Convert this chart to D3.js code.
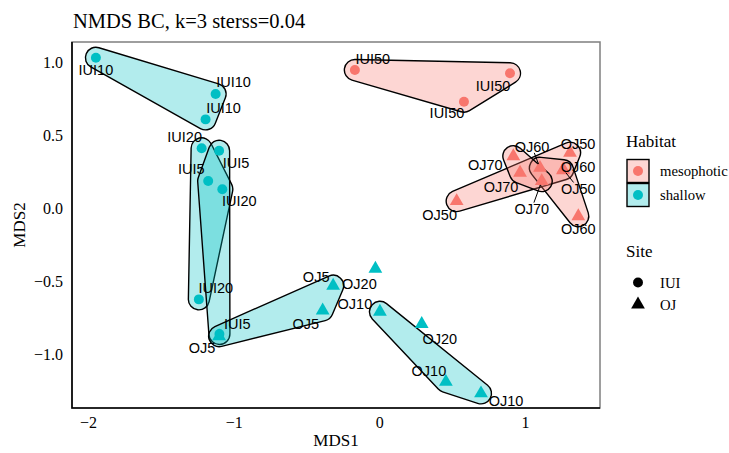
<!DOCTYPE html>
<html>
<head>
<meta charset="utf-8">
<script src="https://cdn.jsdelivr.net/npm/d3@7"></script>
<style>
  body { margin: 0; background: #fff; }
  svg { display: block; }
</style>
</head>
<body>
<svg id="chart" width="729" height="453"></svg>
<script>

// samples, one entry per point
const sampleLabel = [
  "IUI10", "IUI10", "IUI10", "IUI20", "IUI20", "IUI20", "IUI5", "IUI5", "IUI5",
  "OJ5", "OJ5", "OJ5", "OJ10", "OJ10", "OJ10", "OJ20", "OJ20",
  "IUI50", "IUI50", "IUI50",
  "OJ50", "OJ50", "OJ50", "OJ60", "OJ60", "OJ60", "OJ70", "OJ70", "OJ70"
]
const sampleSite = [
  "IUI", "IUI", "IUI", "IUI", "IUI", "IUI", "IUI", "IUI", "IUI",
  "OJ", "OJ", "OJ", "OJ", "OJ", "OJ", "OJ", "OJ",
  "IUI", "IUI", "IUI",
  "OJ", "OJ", "OJ", "OJ", "OJ", "OJ", "OJ", "OJ", "OJ"
]
const sampleHabitat = [
  "shallow", "shallow", "shallow", "shallow", "shallow", "shallow", "shallow", "shallow", "shallow",
  "shallow", "shallow", "shallow", "shallow", "shallow", "shallow", "shallow", "shallow",
  "mesophotic", "mesophotic", "mesophotic",
  "mesophotic", "mesophotic", "mesophotic", "mesophotic", "mesophotic", "mesophotic",
  "mesophotic", "mesophotic", "mesophotic"
]
const mds1 = [
  -1.946, -1.124, -1.193, -1.220, -1.078, -1.239, -1.100, -1.175, -1.098,
  -1.100, -0.389, -0.317, 0.004, 0.457, 0.698, -0.027, 0.291,
  -0.168, 0.897, 0.581,
  0.531, 1.263, 1.309, 1.103, 1.261, 1.366, 0.920, 0.966, 1.115
]
const mds2 = [
  1.029, 0.781, 0.607, 0.409, 0.129, -0.626, 0.392, 0.185, -0.863,
  -0.878, -0.702, -0.532, -0.711, -1.191, -1.270, -0.416, -0.794,
  0.945, 0.923, 0.728,
  0.047, 0.264, 0.378, 0.275, 0.259, -0.056, 0.355, 0.241, 0.184
]

const habitats = ["mesophotic", "shallow"]
const sites = ["IUI", "OJ"]
const xTicks = [-2, -1, 0, 1]
const yTicks = [-1, -0.5, 0, 0.5, 1]

// where the repelled text labels ended up, in px from their point (+ segment flag)
const labelNudge = [
  [0, 12.5], [18, -12], [18, -12], [-17, -12], [17, 12], [17, -12], [17, 12], [-17, -12], [18, -10],
  [-17, 12], [-17, 13], [-17, -9], [-25, -8], [-17, -11], [25, 7], [-16, 15], [18, 15],
  [18, -11.5], [-17, 13], [-17, 11],
  [-17, 14], [15, 19, true], [8, -9], [-8, -21, true], [15, -3], [0, 12.5], [-28, 9], [-19, 14], [-10, 27.5, true]
]

const colour = d3.scaleOrdinal().domain(habitats).range(["#F8766D", "#00BFC4"])
const shape = d3.scaleOrdinal().domain(sites).range([d3.symbolCircle, d3.symbolTriangle])
const symSize = { IUI: 78, OJ: 82 }

const svg = d3.select("#chart")
const panel = { left: 72, right: 600, top: 42, bottom: 408 }

const x = d3.scaleLinear().domain([-2.11, 1.515]).range([panel.left, panel.right])
const y = d3.scaleLinear().domain([-1.37, 1.137]).range([panel.bottom, panel.top])

const serif = "'Liberation Serif', 'Times New Roman', Times, serif"
const sans = "'Liberation Sans', Arial, Helvetica, sans-serif"

const points = mds1.map((v, i) => ({
  label: sampleLabel[i],
  site: sampleSite[i],
  habitat: sampleHabitat[i],
  px: x(v),
  py: y(mds2[i]),
  nudge: labelNudge[i]
}))

// convex hull grown by r with round corners
function roundedHull(pts, r) {
  let h = d3.polygonHull(pts)
  let a2 = 0
  h.forEach((p, i) => {
    let q = h[(i + 1) % h.length]
    a2 += p[0] * q[1] - q[0] * p[1]
  })
  if (a2 < 0) h.reverse()
  let n = h.length
  let segs = h.map((a, i) => {
    let b = h[(i + 1) % n]
    let dx = b[0] - a[0], dy = b[1] - a[1]
    let L = Math.hypot(dx, dy)
    let nx = dy / L * r, ny = -dx / L * r
    return [[a[0] + nx, a[1] + ny], [b[0] + nx, b[1] + ny]]
  })
  let d = "M" + segs[0][0]
  segs.forEach((s, i) => {
    let next = segs[(i + 1) % n]
    d += "L" + s[1] + "A" + r + "," + r + " 0 0 1 " + next[0]
  })
  return d + "Z"
}

// hulls per sample group (only groups with 3+ points)
let groups = d3.groups(points, d => d.label)
let hullLayer = svg.append("g")
groups.forEach(([key, pts]) => {
  if (pts.length < 3) return
  hullLayer.append("path")
    .attr("d", roundedHull(pts.map(p => [p.px, p.py]), 10.5))
    .attr("fill", colour(pts[0].habitat))
    .attr("fill-opacity", 0.3)
    .attr("stroke", "#000")
    .attr("stroke-width", 1.4)
})

// points
svg.append("g").selectAll("path")
  .data(points)
  .join("path")
  .attr("transform", d => "translate(" + d.px + "," + d.py + ")")
  .attr("d", d => d3.symbol().type(shape(d.site)).size(symSize[d.site])())
  .attr("fill", d => colour(d.habitat))

// text labels + leader segments
let labelLayer = svg.append("g")
points.forEach(p => {
  let cx = p.px + p.nudge[0], cy = p.py + p.nudge[1]
  let t = labelLayer.append("text")
    .attr("x", cx).attr("y", cy).attr("dy", "0.36em")
    .attr("text-anchor", "middle")
    .style("font-family", sans).style("font-size", "14.5px")
    .text(p.label)
  if (p.nudge[2]) {
    let hw = t.node().getComputedTextLength() / 2 + 1, hh = 6
    let vx = p.px - cx, vy = p.py - cy
    let s = Math.min(hw / Math.abs(vx || 1e-6), hh / Math.abs(vy || 1e-6))
    let L = Math.hypot(vx, vy)
    labelLayer.append("line")
      .attr("x1", cx + vx * s).attr("y1", cy + vy * s)
      .attr("x2", p.px - vx / L * 4).attr("y2", p.py - vy / L * 4)
      .attr("stroke", "#000").attr("stroke-width", 1)
  }
})

// panel frame
svg.append("rect")
  .attr("x", panel.left).attr("y", panel.top)
  .attr("width", panel.right - panel.left).attr("height", panel.bottom - panel.top)
  .attr("fill", "none").attr("stroke", "#7f7f7f").attr("stroke-width", 1.5)
svg.append("path")
  .attr("d", "M" + panel.left + "," + panel.top + "V" + panel.bottom + "H" + panel.right)
  .attr("fill", "none").attr("stroke", "#000").attr("stroke-width", 1.6)

// axes
let xAxis = svg.append("g")
  .attr("transform", "translate(0," + panel.bottom + ")")
  .call(d3.axisBottom(x).tickValues(xTicks).tickSize(0).tickPadding(9).tickFormat(d3.format("d")))
let yAxis = svg.append("g")
  .attr("transform", "translate(" + panel.left + ",0)")
  .call(d3.axisLeft(y).tickValues(yTicks).tickSize(0).tickPadding(9).tickFormat(d3.format(".1f")))
;[xAxis, yAxis].forEach(a => {
  a.select(".domain").remove()
  a.selectAll("text").style("font-family", serif).style("font-size", "16px").attr("fill", "#000")
})

svg.append("text")
  .attr("x", (panel.left + panel.right) / 2).attr("y", 446)
  .attr("text-anchor", "middle")
  .style("font-family", serif).style("font-size", "17px")
  .text("MDS1")
svg.append("text")
  .attr("transform", "translate(25," + (panel.top + panel.bottom) / 2 + ") rotate(-90)")
  .attr("text-anchor", "middle")
  .style("font-family", serif).style("font-size", "17px")
  .text("MDS2")

// title
svg.append("text")
  .attr("x", 73).attr("y", 28)
  .style("font-family", serif).style("font-size", "20.5px")
  .text("NMDS BC, k=3 sterss=0.04")

// legends
let leg = svg.append("g")
leg.append("text").attr("x", 626).attr("y", 147)
  .style("font-family", serif).style("font-size", "17px").text("Habitat")
habitats.forEach((h, i) => {
  let ky = 159.5 + i * 24
  leg.append("rect").attr("x", 627).attr("y", ky).attr("width", 22).attr("height", 23)
    .attr("fill", colour(h)).attr("fill-opacity", 0.3)
    .attr("stroke", "#000").attr("stroke-width", 1.4)
  leg.append("path").attr("transform", "translate(638," + (ky + 11.5) + ")")
    .attr("d", d3.symbol().type(d3.symbolCircle).size(78)())
    .attr("fill", colour(h))
  leg.append("text").attr("x", 660).attr("y", ky + 16.5)
    .style("font-family", serif).style("font-size", "14.7px").text(h)
})
leg.append("text").attr("x", 626).attr("y", 257)
  .style("font-family", serif).style("font-size", "17px").text("Site")
sites.forEach((s, i) => {
  let ky = 282.5 + i * 22
  leg.append("path").attr("transform", "translate(638," + ky + ")")
    .attr("d", d3.symbol().type(shape(s)).size(symSize[s])())
    .attr("fill", "#000")
  leg.append("text").attr("x", 660).attr("y", ky + 5)
    .style("font-family", serif).style("font-size", "14.7px").text(s)
})
</script>
</body>
</html>
